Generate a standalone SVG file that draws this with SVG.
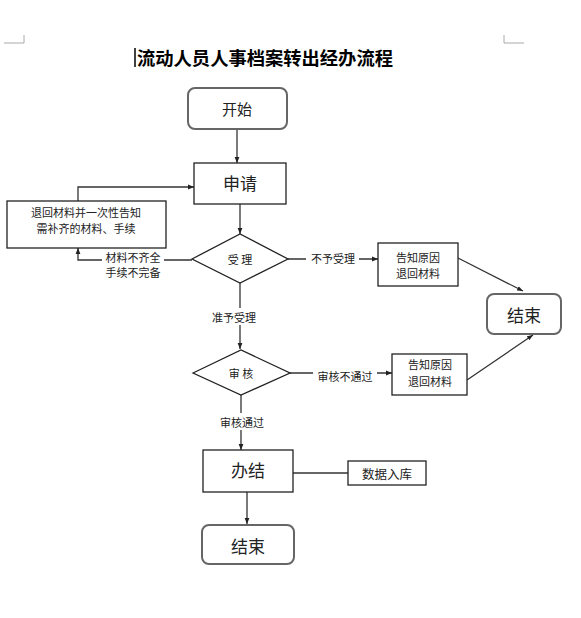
<svg xmlns="http://www.w3.org/2000/svg" width="581" height="618" viewBox="0 0 581 618">
<style>
text{font-family:"Noto Sans CJK SC","Noto Sans",sans-serif;fill:#222;text-anchor:middle;dominant-baseline:central}
.rr{fill:#fff;stroke:#666;stroke-width:2}
.bx{fill:#fff;stroke:#222;stroke-width:1.3}
.ln{fill:none;stroke:#333;stroke-width:1.3}
.big{font-size:17px}
.sm{font-size:11px}
.mark{fill:none;stroke:#aaa;stroke-width:1}
</style>
<defs>
<marker id="ah" viewBox="0 0 10 10" refX="10" refY="5" markerWidth="6" markerHeight="6" orient="auto" markerUnits="userSpaceOnUse">
<path d="M0,1 L10,5 L0,9 z" fill="#222"/>
</marker>
</defs>
<rect width="581" height="618" fill="#fff"/>
<path class="mark" d="M4,43 H24 V35"/>
<path class="mark" d="M504,35 V43 H524"/>
<line x1="135" y1="48" x2="135" y2="67" stroke="#000" stroke-width="1.5"/>
<text x="265" y="57" style="font-size:18.3px;font-weight:bold;fill:#000">流动人员人事档案转出经办流程</text>

<g id="connectors">
<line class="ln" x1="237" y1="129" x2="237" y2="163" marker-end="url(#ah)"/>
<line class="ln" x1="240" y1="204" x2="240" y2="234" marker-end="url(#ah)"/>
<polyline class="ln" points="78,201 78,187 194,187" marker-end="url(#ah)"/>
<polyline class="ln" points="192,260 78,260 78,248" marker-end="url(#ah)"/>
<line class="ln" x1="288" y1="259" x2="378" y2="259" marker-end="url(#ah)"/>
<line class="ln" x1="458" y1="258" x2="523" y2="291" marker-end="url(#ah)"/>
<line class="ln" x1="240" y1="283" x2="240" y2="349" marker-end="url(#ah)"/>
<line class="ln" x1="290" y1="373" x2="392" y2="373" marker-end="url(#ah)"/>
<line class="ln" x1="467" y1="380" x2="533" y2="335" marker-end="url(#ah)"/>
<line class="ln" x1="241" y1="395" x2="241" y2="450" marker-end="url(#ah)"/>
<line class="ln" x1="293" y1="473" x2="348" y2="473"/>
<line class="ln" x1="247" y1="492" x2="247" y2="524" marker-end="url(#ah)"/>
<rect x="102" y="250" width="62" height="30" fill="#fff"/>
<text class="sm" x="133" y="257">材料不齐全</text>
<text class="sm" x="133" y="272">手续不完备</text>
<rect x="306" y="251" width="53" height="15" fill="#fff"/>
<text class="sm" x="333" y="258">不予受理</text>
<rect x="206" y="308" width="56" height="17" fill="#fff"/>
<text class="sm" x="234" y="317">准予受理</text>
<rect x="313" y="367" width="64" height="16" fill="#fff"/>
<text class="sm" x="345" y="376">审核不通过</text>
<rect x="215" y="413" width="54" height="17" fill="#fff"/>
<text class="sm" x="242" y="422">审核通过</text>
</g>

<g id="start"><rect class="rr" x="188" y="88" width="99" height="41" rx="7"/><text class="big" x="237" y="108" style="font-size:15px">开始</text></g>
<g id="apply"><rect class="bx" x="194" y="163" width="92" height="41"/><text class="big" x="240" y="182">申请</text></g>
<g id="returnbox"><rect class="bx" x="7" y="201" width="159" height="47"/><text class="sm" x="86" y="212">退回材料并一次性告知</text><text class="sm" x="86" y="228">需补齐的材料、手续</text></g>
<g id="accept"><polygon class="bx" points="192,259 240,234 288,259 240,283"/><text class="sm" x="240" y="259">受 理</text></g>
<g id="reject1"><rect class="bx" x="378" y="243" width="80" height="43"/><text class="sm" x="418" y="257">告知原因</text><text class="sm" x="418" y="273">退回材料</text></g>
<g id="end1"><rect class="rr" x="487" y="294" width="74" height="40" rx="7"/><text class="big" x="524" y="314">结束</text></g>
<g id="review"><polygon class="bx" points="193,373 241,350 290,373 241,395"/><text class="sm" x="241" y="373">审 核</text></g>
<g id="reject2"><rect class="bx" x="392" y="354" width="75" height="41"/><text class="sm" x="430" y="364">告知原因</text><text class="sm" x="430" y="381">退回材料</text></g>
<g id="done"><rect class="bx" x="203" y="450" width="90" height="42"/><text class="big" x="248" y="469">办结</text></g>
<g id="db"><rect class="bx" x="348" y="461" width="78" height="24"/><text class="sm" x="387" y="473" style="font-size:12.5px">数据入库</text></g>
<g id="end2"><rect class="rr" x="202" y="525" width="92" height="39" rx="7"/><text class="big" x="248" y="545">结束</text></g>
</svg>
